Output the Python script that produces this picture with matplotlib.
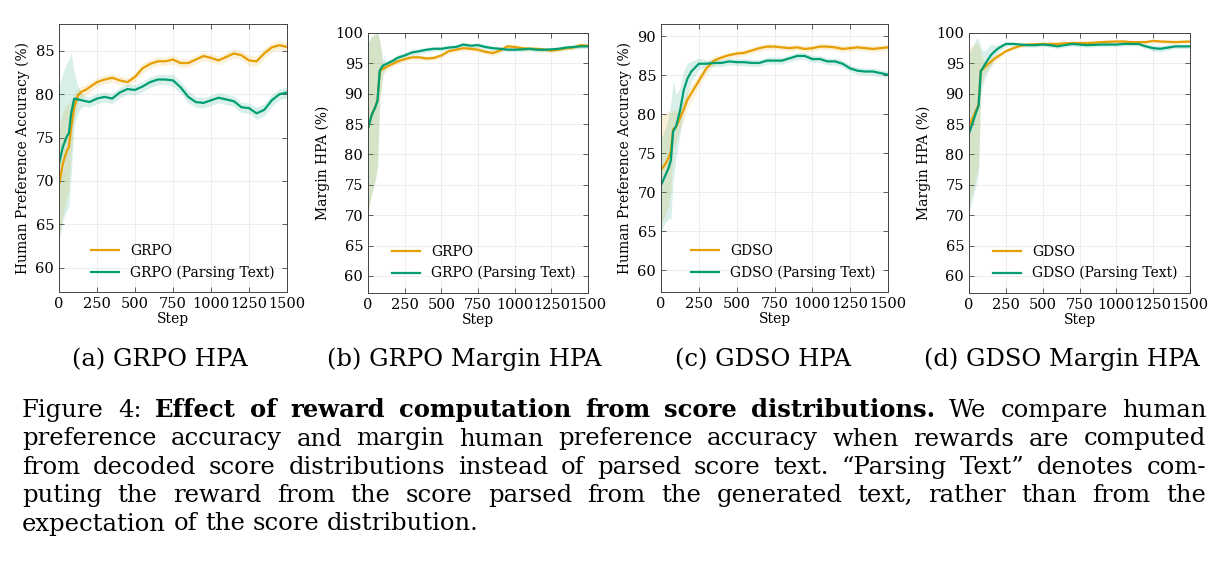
import matplotlib
matplotlib.use("Agg")
import matplotlib.pyplot as plt
from matplotlib.ticker import MultipleLocator
import numpy as np

# training steps shared by every curve
steps = [0, 25, 50, 65, 80, 100, 125, 150, 175, 200, 250, 300, 350, 400, 450,
         500, 550, 600, 650, 700, 750, 800, 850, 900, 950, 1000, 1050, 1100,
         1150, 1200, 1250, 1300, 1350, 1400, 1450, 1500]

# (a) GRPO HPA
grpo_hpa = [69.5, 72.0, 73.4, 73.9, 76.2, 78.5, 79.9, 80.3, 80.5, 80.8, 81.4,
            81.7, 81.9, 81.6, 81.4, 82.0, 83.0, 83.5, 83.8, 83.8, 84.0, 83.6,
            83.6, 84.0, 84.4, 84.2, 83.9, 84.3, 84.7, 84.5, 83.9, 83.8, 84.7,
            85.4, 85.65, 85.45]
grpo_hpa_sd = [6.5, 6.0, 5.5, 5.0, 3.0, 1.5, 0.8, 0.6, 0.6, 0.6, 0.5, 0.5,
               0.5, 0.5, 0.5, 0.5, 0.6, 0.5, 0.5, 0.5, 0.5, 0.5, 0.5, 0.5,
               0.5, 0.5, 0.5, 0.5, 0.5, 0.5, 0.6, 0.6, 0.6, 0.5, 0.5, 0.5]
grpo_hpa_txt = [72.0, 73.9, 75.1, 75.5, 77.8, 79.5, 79.4, 79.3, 79.2, 79.1,
                79.5, 79.7, 79.5, 80.2, 80.6, 80.5, 80.9, 81.4, 81.7, 81.7,
                81.6, 80.8, 79.7, 79.1, 79.0, 79.3, 79.6, 79.4, 79.2, 78.5,
                78.4, 77.8, 78.2, 79.3, 80.0, 80.2]
grpo_hpa_txt_sd = [9.0, 8.5, 8.5, 8.5, 7.0, 3.0, 1.5, 0.8, 0.6, 0.6, 0.6, 0.6,
                   0.6, 0.6, 0.6, 0.6, 0.6, 0.6, 0.6, 0.6, 0.7, 0.7, 0.7, 0.6,
                   0.6, 0.6, 0.6, 0.6, 0.6, 0.6, 0.6, 0.7, 0.7, 0.7, 0.6, 0.6]

# (b) GRPO Margin HPA
grpo_mhpa = [84.3, 86.5, 87.9, 89.0, 93.7, 94.1, 94.4, 94.7, 95.0, 95.3, 95.7,
             96.0, 96.0, 95.8, 95.9, 96.3, 97.0, 97.25, 97.5, 97.4, 97.25,
             96.9, 96.7, 97.1, 97.8, 97.7, 97.5, 97.4, 97.4, 97.25, 97.1,
             97.25, 97.5, 97.6, 98.0, 97.9]
grpo_mhpa_sd = [14.0, 13.0, 12.0, 11.0, 5.0, 1.2, 0.6, 0.4, 0.4, 0.4, 0.4,
                0.4, 0.4, 0.4, 0.4, 0.4, 0.4, 0.4, 0.4, 0.4, 0.4, 0.4, 0.4,
                0.4, 0.4, 0.4, 0.4, 0.35, 0.35, 0.35, 0.35, 0.35, 0.35, 0.35,
                0.35, 0.35]
grpo_mhpa_txt = [84.3, 86.5, 87.8, 88.9, 93.8, 94.6, 94.9, 95.2, 95.5, 95.9,
                 96.3, 96.8, 97.0, 97.25, 97.4, 97.4, 97.6, 97.7, 98.1, 97.9,
                 98.0, 97.7, 97.5, 97.4, 97.25, 97.25, 97.3, 97.4, 97.25,
                 97.25, 97.3, 97.4, 97.6, 97.7, 97.8, 97.8]
grpo_mhpa_txt_sd = [14.0, 13.0, 12.0, 11.0, 5.0, 1.2, 0.6, 0.5, 0.5, 0.5, 0.5,
                    0.5, 0.5, 0.4, 0.4, 0.4, 0.4, 0.4, 0.4, 0.4, 0.4, 0.4,
                    0.35, 0.35, 0.35, 0.35, 0.35, 0.35, 0.35, 0.35, 0.35,
                    0.35, 0.35, 0.35, 0.35, 0.35]

# (c) GDSO HPA
gdso_hpa = [72.9, 73.5, 74.4, 75.2, 78.1, 78.4, 79.5, 80.6, 81.9, 82.7, 84.3,
            85.9, 86.9, 87.3, 87.6, 87.8, 87.9, 88.2, 88.5, 88.7, 88.7, 88.6,
            88.5, 88.6, 88.4, 88.5, 88.7, 88.7, 88.6, 88.4, 88.5, 88.6, 88.5,
            88.4, 88.5, 88.6]
gdso_hpa_sd = [7.0, 6.5, 6.0, 5.0, 2.5, 2.0, 1.5, 1.3, 1.1, 1.0, 0.8, 0.7,
               0.6, 0.4, 0.4, 0.4, 0.4, 0.4, 0.4, 0.4, 0.4, 0.4, 0.4, 0.4,
               0.4, 0.4, 0.4, 0.4, 0.4, 0.4, 0.4, 0.4, 0.4, 0.4, 0.4, 0.4]
gdso_hpa_txt = [70.9, 72.0, 73.1, 74.1, 77.8, 78.5, 80.4, 83.1, 84.6, 85.5,
                86.5, 86.5, 86.6, 86.6, 86.8, 86.7, 86.7, 86.6, 86.6, 86.9,
                86.9, 86.9, 87.2, 87.5, 87.5, 87.1, 87.1, 86.8, 86.8, 86.5,
                85.9, 85.6, 85.5, 85.5, 85.3, 85.1]
gdso_hpa_txt_sd = [6.0, 6.0, 6.5, 7.5, 6.5, 4.0, 3.0, 2.5, 2.0, 1.3, 0.7, 0.5,
                   0.45, 0.45, 0.45, 0.45, 0.45, 0.45, 0.45, 0.45, 0.45, 0.45,
                   0.45, 0.45, 0.45, 0.45, 0.45, 0.45, 0.45, 0.45, 0.45, 0.45,
                   0.45, 0.45, 0.45, 0.45]

# (d) GDSO Margin HPA
gdso_mhpa = [84.6, 86.0, 87.4, 88.2, 93.8, 94.2, 94.8, 95.3, 95.8, 96.2, 97.0,
             97.5, 97.9, 98.1, 98.15, 98.2, 98.2, 98.2, 98.3, 98.35, 98.35,
             98.35, 98.4, 98.5, 98.55, 98.6, 98.6, 98.5, 98.5, 98.5, 98.7,
             98.6, 98.55, 98.5, 98.55, 98.6]
gdso_mhpa_sd = [13.0, 12.0, 11.0, 10.0, 3.0, 1.2, 0.8, 0.7, 0.6, 0.5, 0.3,
                0.3, 0.3, 0.3, 0.3, 0.3, 0.3, 0.3, 0.3, 0.3, 0.3, 0.3, 0.3,
                0.3, 0.3, 0.3, 0.3, 0.3, 0.3, 0.3, 0.3, 0.3, 0.3, 0.3, 0.3,
                0.3]
gdso_mhpa_txt = [83.5, 85.2, 87.1, 88.0, 93.7, 94.5, 95.5, 96.4, 97.0, 97.5,
                 98.2, 98.2, 98.1, 98.0, 98.0, 98.1, 98.0, 97.8, 98.0, 98.2,
                 98.1, 98.0, 98.05, 98.1, 98.1, 98.1, 98.2, 98.2, 98.2, 97.8,
                 97.5, 97.4, 97.6, 97.8, 97.8, 97.8]
gdso_mhpa_txt_sd = [13.0, 12.5, 12.0, 11.0, 4.0, 2.5, 2.0, 1.8, 1.0, 0.6,
                    0.35, 0.35, 0.35, 0.35, 0.35, 0.35, 0.35, 0.35, 0.35,
                    0.35, 0.35, 0.35, 0.35, 0.35, 0.35, 0.35, 0.35, 0.35,
                    0.35, 0.4, 0.5, 0.5, 0.45, 0.35, 0.35, 0.35]

subcaptions = ["(a) GRPO HPA", "(b) GRPO Margin HPA",
               "(c) GDSO HPA", "(d) GDSO Margin HPA"]

caption_lines = [
    [("Figure", "normal"), ("4:", "normal"),
     ("Effect of reward computation from score distributions.", "bold"),
     ("We compare human", "normal")],
    [("preference accuracy and margin human preference accuracy when rewards are computed", "normal")],
    [("from decoded score distributions instead of parsed score text. \u201cParsing Text\u201d denotes com-", "normal")],
    [("puting the reward from the score parsed from the generated text, rather than from the", "normal")],
    [("expectation of the score distribution.", "normal")],
]

ORANGE = "#E69F00"
GREEN = "#009E73"
W, H = 1225, 574
CAP_FONT = "DejaVu Serif"
CAP_SIZE = 17.5


def px_box(left, top, right, bottom):
    return [left / W, 1 - bottom / H, (right - left) / W, (bottom - top) / H]


def draw_panel(ax, method, ylabel, ymax, main, main_sd, txt, txt_sd):
    x = np.array(steps)
    for y, sd, color, label in [(main, main_sd, ORANGE, method),
                                (txt, txt_sd, GREEN, method + " (Parsing Text)")]:
        y = np.array(y)
        sd = np.array(sd)
        ax.fill_between(x, y - sd, y + sd, color=color, alpha=0.15, lw=0)
        ax.plot(x, y, color=color, lw=1.6, label=label)
    ax.set_xlim(0, 1500)
    ax.set_ylim(57.2, ymax)
    ax.xaxis.set_major_locator(MultipleLocator(250))
    ax.yaxis.set_major_locator(MultipleLocator(5))
    ax.grid(True, color="#ebebeb", lw=0.6)
    ax.set_axisbelow(True)
    ax.tick_params(direction="in", top=True, right=True, length=3.5,
                   width=0.6, color="#444444", labelsize=10.5)
    for s in ax.spines.values():
        s.set_color("#444444")
        s.set_linewidth(0.7)
    ax.set_xlabel("Step", fontsize=10, labelpad=1)
    ax.set_ylabel(ylabel, fontsize=10)
    ax.legend(loc="lower right", frameon=False, fontsize=10)


def place_line(fig, renderer, segments, baseline, left, right, justify):
    words = []
    for text, weight in segments:
        for w in text.split(" "):
            words.append((w, weight))
    artists = [fig.text(0, 1 - baseline / H, w, fontsize=CAP_SIZE,
                        family=CAP_FONT, weight=wt, va="baseline", ha="left")
               for w, wt in words]
    widths = [a.get_window_extent(renderer).width for a in artists]
    if justify:
        gap = (right - left - sum(widths)) / (len(words) - 1)
    else:
        probe = fig.text(0, 0, "a a", fontsize=CAP_SIZE, family=CAP_FONT)
        probe2 = fig.text(0, 0, "aa", fontsize=CAP_SIZE, family=CAP_FONT)
        gap = (probe.get_window_extent(renderer).width
               - probe2.get_window_extent(renderer).width)
        probe.remove()
        probe2.remove()
    xpos = left
    for a, wd in zip(artists, widths):
        a.set_x(xpos / W)
        xpos += wd + gap


def main():
    plt.rcParams["font.family"] = "DejaVu Serif"
    fig = plt.figure(figsize=(W / 100, H / 100), dpi=100)

    ax1 = fig.add_axes(px_box(59, 24, 287, 292))
    ax2 = fig.add_axes(px_box(368, 33, 588, 293))
    ax3 = fig.add_axes(px_box(661, 24, 888, 292))
    ax4 = fig.add_axes(px_box(969, 33, 1190, 293))

    draw_panel(ax1, "GRPO", "Human Preference Accuracy (%)", 88.1,
               grpo_hpa, grpo_hpa_sd, grpo_hpa_txt, grpo_hpa_txt_sd)
    draw_panel(ax2, "GRPO", "Margin HPA (%)", 100,
               grpo_mhpa, grpo_mhpa_sd, grpo_mhpa_txt, grpo_mhpa_txt_sd)
    draw_panel(ax3, "GDSO", "Human Preference Accuracy (%)", 91.6,
               gdso_hpa, gdso_hpa_sd, gdso_hpa_txt, gdso_hpa_txt_sd)
    draw_panel(ax4, "GDSO", "Margin HPA (%)", 100,
               gdso_mhpa, gdso_mhpa_sd, gdso_mhpa_txt, gdso_mhpa_txt_sd)

    # sub-figure captions
    for cx, label in zip([160, 464, 763, 1062], subcaptions):
        fig.text(cx / W, 1 - 366 / H, label, fontsize=CAP_SIZE,
                 family=CAP_FONT, ha="center", va="baseline")

    # justified figure caption
    renderer = fig.canvas.get_renderer()
    baselines = [417, 445.5, 474, 502, 530.5]
    for i, (segments, base) in enumerate(zip(caption_lines, baselines)):
        place_line(fig, renderer, segments, base, 22, 1206,
                   justify=i < len(caption_lines) - 1)

    fig.savefig("out.png", dpi=100)


if __name__ == "__main__":
    main()
